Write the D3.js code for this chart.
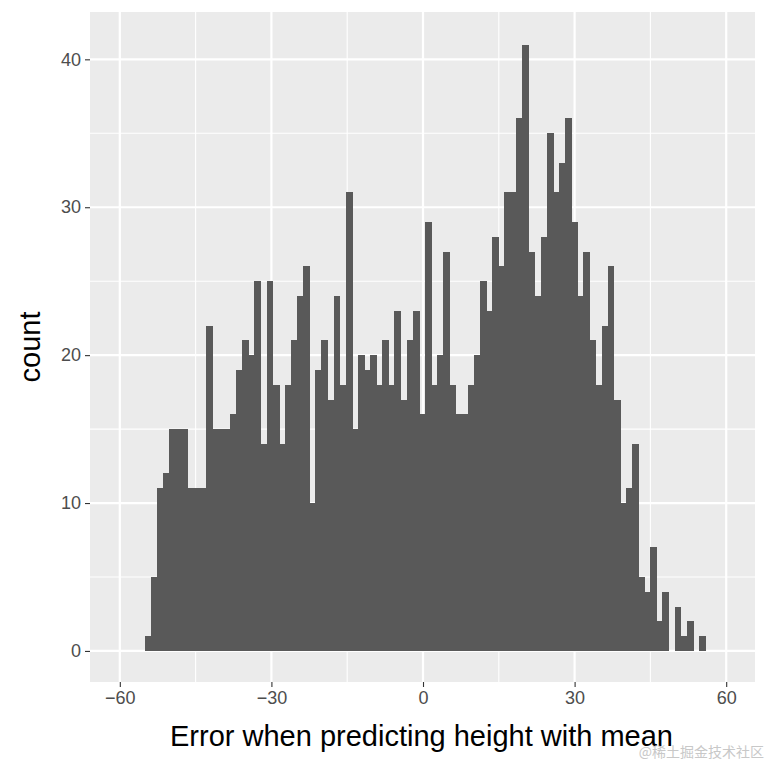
<!DOCTYPE html>
<html><head><meta charset="utf-8">
<script src="https://cdn.jsdelivr.net/npm/d3@7"></script>
<style>body{margin:0;background:#fff}</style></head>
<body><svg id="c" width="768" height="768"></svg>
<script>
const binStart = -55.05;
const binWidth = 1.205;
const counts = [1,5,11,12,15,15,15,11,11,11,22,15,15,15,16,19,21,20,25,14,25,18,14,18,
21,24,26,10,19,21,17,24,18,31,15,20,19,20,18,21,18,23,17,21,23,16,29,18,20,27,18,16,16,18,
20,25,23,28,26,31,31,36,41,27,24,28,35,31,33,36,29,24,27,21,18,22,26,17,10,11,14,5,4,7,2,4,0,3,1,2,0,1];
const xTicks = [-60,-30,0,30,60];
const xMinor = [-45,-15,15,45];
const yTicks = [0,10,20,30,40];
const yMinor = [5,15,25,35];

const svg = d3.select("#c");
const L=90,R=755,T=12,B=682;
const x = d3.scaleLinear().domain([-65.9,65.7]).range([L,R]);
const y = d3.scaleLinear().domain([-2.1,43.2]).range([B,T]);
svg.append("rect").attr("x",L).attr("y",T).attr("width",R-L).attr("height",B-T).attr("fill","#ebebeb");
const g = svg.append("g");
xMinor.forEach(v=>g.append("line").attr("x1",x(v)).attr("x2",x(v)).attr("y1",T).attr("y2",B).attr("stroke","#fff").attr("stroke-width",1.1));
yMinor.forEach(v=>g.append("line").attr("y1",y(v)).attr("y2",y(v)).attr("x1",L).attr("x2",R).attr("stroke","#fff").attr("stroke-width",1.1));
xTicks.forEach(v=>g.append("line").attr("x1",x(v)).attr("x2",x(v)).attr("y1",T).attr("y2",B).attr("stroke","#fff").attr("stroke-width",2.2));
yTicks.forEach(v=>g.append("line").attr("y1",y(v)).attr("y2",y(v)).attr("x1",L).attr("x2",R).attr("stroke","#fff").attr("stroke-width",2.2));
svg.append("g").attr("shape-rendering","crispEdges").selectAll("rect").data(counts).join("rect")
  .attr("x",(d,i)=>x(binStart+i*binWidth))
  .attr("width",(d,i)=>x(binStart+(i+1)*binWidth)-x(binStart+i*binWidth)+0.8)
  .attr("y",d=>y(d)).attr("height",d=>y(0)-y(d)).attr("fill","#595959");
const xa = svg.append("g").attr("transform",`translate(0,${B})`).call(d3.axisBottom(x).tickValues(xTicks).tickSize(5).tickPadding(4));
const ya = svg.append("g").attr("transform",`translate(${L},0)`).call(d3.axisLeft(y).tickValues(yTicks).tickSize(5).tickPadding(4));
[xa,ya].forEach(a=>{a.select(".domain").remove();a.selectAll("line").attr("stroke","#333").attr("stroke-width",1.1);
 a.selectAll("text").attr("fill","#4d4d4d").style("font-family","Liberation Sans, Arial").style("font-size","18px");});
svg.append("text").attr("x",(L+R)/2-1).attr("y",746).attr("text-anchor","middle").style("font-family","Liberation Sans, Arial").style("font-size","29px").text("Error when predicting height with mean");
svg.append("text").attr("transform",`translate(40,${(T+B)/2}) rotate(-90)`).attr("text-anchor","middle").style("font-family","Liberation Sans, Arial").style("font-size","29px").text("count");
svg.append("text").attr("x",764).attr("y",757).attr("text-anchor","end").attr("fill","#c8c8c8").style("font-family","Noto Sans CJK SC").style("font-size","14px").text("@稀土掘金技术社区");
</script></body></html>
